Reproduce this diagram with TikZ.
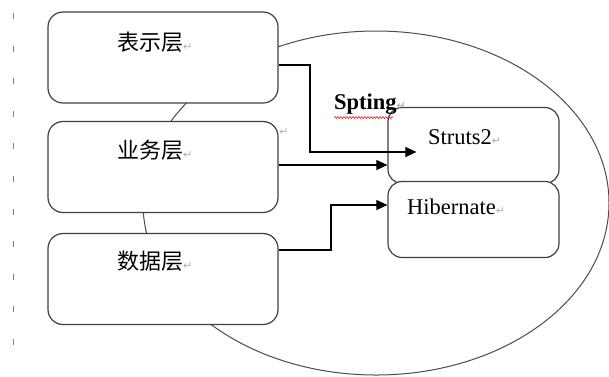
\documentclass[tikz,border=0pt]{standalone}
\usepackage{fontspec}
\setmainfont{Liberation Serif}
\newfontfamily\cjk{Noto Sans CJK SC}
\newfontfamily\pmfont{DejaVu Sans}
\usepackage{tikz}
\usetikzlibrary{arrows.meta,shapes.geometric,decorations.pathmorphing}
\newcommand{\pmark}{{\pmfont\fontsize{11}{11}\selectfont\color{gray!60}↵}}

\begin{document}
\begin{tikzpicture}[x=1pt,y=-1pt,
    layer/.style={draw=black!75,line width=1.2pt,fill=white,rounded corners=15pt,
      minimum width=230pt,minimum height=91pt,inner sep=0pt},
    frame/.style={draw=black!75,line width=1.2pt,fill=white,rounded corners=14pt,
      minimum width=171pt,minimum height=76pt,inner sep=0pt},
    link/.style={draw=black,line width=1.1pt,-{Triangle[length=11pt,width=10pt]}},
    cjktext/.style={font=\cjk\fontsize{22}{22}\selectfont,inner sep=0pt,anchor=west},
    latin/.style={font=\fontsize{22.5}{22.5}\selectfont,inner sep=0pt,anchor=west}]
  \useasboundingbox (0,0) rectangle (609,376);
  % left margin mark
  \draw[gray,line width=0.8pt,dash pattern=on 6pt off 26.6pt] (13,13) -- (13,348);
  % spring container
  \node[ellipse,draw=black!70,line width=1pt,minimum width=466pt,minimum height=344pt,
    inner sep=0pt] (spring) at (376,203) {};
  \node[layer] (biaoshi) at (163,57.5) {};
  \node[layer] (yewu) at (163,167) {};
  \node[layer] (shuju) at (163,279) {};
  \node[frame] (struts) at (473.5,145.5) {};
  \node[frame] (hibernate) at (473.5,219.5) {};
  \node[cjktext] (biaoshi-t) at (117,42) {表示层\pmark};
  \node[cjktext] (yewu-t) at (117,150) {业务层\pmark};
  \node[cjktext] (shuju-t) at (117,261) {数据层\pmark};
  \node[latin] (struts-t) at (428,137) {Struts2\pmark};
  \node[latin] (hibernate-t) at (407,207) {Hibernate\pmark};
  \node[latin,font=\bfseries\fontsize{22.5}{22.5}\selectfont] (spring-t) at (334,104) {Spting\pmark};
  \node[inner sep=0pt] (stray) at (284,132) {\pmark};
  \draw[red,line width=0.5pt,decorate,decoration={snake,amplitude=1pt,segment length=3pt}]
    ([yshift=-3pt]spring-t.south west) -- ([xshift=-13pt,yshift=-3pt]spring-t.south east);
  % connectors
  \coordinate (biaoshi-out) at ([yshift=-7.5pt]biaoshi.east);
  \coordinate (yewu-out) at ([yshift=2pt]yewu.east);
  \coordinate (shuju-out) at ([yshift=29pt]shuju.east);
  \coordinate (struts-tip) at ([xshift=29pt,yshift=-6.5pt]struts.west);
  \coordinate (hib-in) at ([yshift=14.5pt]hibernate.west);
  \draw[link] (biaoshi-out) -| (310,152) -- (struts-tip);
  \draw[link] (yewu-out) -- (yewu-out -| struts.west);
  \draw[link] (shuju-out) -| (331,205) -- (hib-in);
\end{tikzpicture}
\end{document}
